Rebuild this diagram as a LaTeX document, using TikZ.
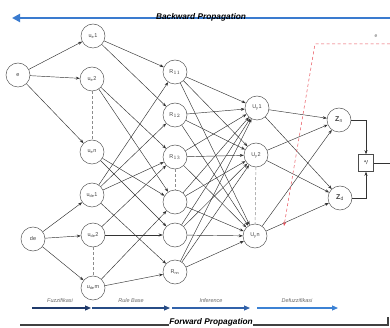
\documentclass[tikz,border=0pt]{standalone}
\usepackage{fontspec}
\setmainfont{Liberation Sans}
\usetikzlibrary{arrows.meta}
\definecolor{bpblue}{HTML}{3A7BCF}
\definecolor{fpgray}{HTML}{404040}
\definecolor{ph1}{HTML}{1F3A6B}
\definecolor{ph2}{HTML}{274C86}
\definecolor{ph3}{HTML}{3162AA}
\definecolor{ph4}{HTML}{3C82D4}
\definecolor{reddash}{HTML}{E8505A}
\begin{document}
\begin{tikzpicture}[x=1pt,y=-1pt,
  nd/.style={circle,draw=black!65,line width=0.5pt,minimum size=24pt,inner sep=0pt,font=\fontsize{5.5}{6}\selectfont,text=black!75},
  zn/.style={nd,font=\fontsize{7}{8}\selectfont\bfseries},
  ln/.style={draw=black!80,line width=0.45pt},
  ar/.style={ln,-{Stealth[length=4pt,width=3pt]}},
  dsh/.style={draw=black!45,line width=0.5pt,dash pattern=on 3pt off 2pt},
  phase/.style={line width=1.1pt,-{Triangle[length=6pt,width=5pt]}},
  phl/.style={font=\fontsize{5.5}{6}\selectfont\itshape,text=black!60},
  prop/.style={font=\fontsize{8.3}{9}\selectfont\bfseries\itshape,inner sep=1pt}]
\useasboundingbox (0,0) rectangle (390,328);
% propagation lines
\coordinate (bpR) at (390,18);
\coordinate (bpL) at (12,18);
\draw[bpblue,line width=2.2pt,-{Triangle[length=8pt,width=8pt]}] (bpR) -- (bpL);
\node[prop] (bpt) at (201,17.5) {Backward Propagation};
\coordinate (fpL) at (20,325);
\coordinate (fpR) at (388,325);
\coordinate (fpT) at (388,317);
\draw[fpgray,line width=2.2pt] (fpL) -- (fpR) -- (fpT);
\node[prop,fill=white,inner sep=0.5pt] (fpt) at (211,322.8) {Forward Propagation};
% nodes
\node[nd] (e) at (18,75) {e};
\node[nd] (de) at (33,239) {de};
\node[nd] (ue1) at (93,36) {u$_{\mathrm{e}}$1};
\node[nd] (ue2) at (92,79) {u$_{\mathrm{e}}$2};
\node[nd] (uen) at (92,152) {u$_{\mathrm{e}}$n};
\node[nd] (ud1) at (92,195) {u$_{\mathrm{de}}$1};
\node[nd] (ud2) at (93,235) {u$_{\mathrm{de}}$2};
\node[nd] (udm) at (93,288) {u$_{\mathrm{de}}$m};
\node[nd] (r1) at (175,72) {R$_{11}$};
\node[nd] (r2) at (175,115) {R$_{12}$};
\node[nd] (r3) at (175,157) {R$_{13}$};
\node[nd] (r4) at (175,202) {};
\node[nd] (r5) at (175,235) {};
\node[nd] (r6) at (175,272) {R$_{\mathrm{nn}}$};
\node[nd] (y1) at (257,108) {U$_{\mathrm{y}}$1};
\node[nd] (y2) at (256,155) {U$_{\mathrm{y}}$2};
\node[nd] (yn) at (255,236) {U$_{\mathrm{y}}$n};
\node[zn] (zn) at (339,120) {Z$_{\mathrm{n}}$};
\node[zn] (zd) at (340,198) {Z$_{\mathrm{d}}$};
\node[draw=black!70,line width=0.5pt,minimum width=15pt,minimum height=17pt,inner sep=0pt,font=\fontsize{5.5}{6}\selectfont] (box) at (366,163) {*/};
\coordinate (out) at (390,163);
% dashed continuation
\draw[dsh] (ue2) -- (uen);
\draw[dsh] (ud2) -- (udm);
\draw[dsh] (r3) -- (r4);
\draw[dsh] (y2) -- (yn);
% input edges
\foreach \t in {ue1,ue2,uen} \draw[ar] (e) -- (\t);
\foreach \t in {ud1,ud2,udm} \draw[ar] (de) -- (\t);
% fuzzification to rules
\foreach \s/\t in {ue1/r1,ue1/r2,ue2/r3,ue2/r4,uen/r4,uen/r5,ud1/r1,ud1/r2,ud1/r3,ud1/r6,ud2/r3,ud2/r5,udm/r4,udm/r6}
  \draw[ar] (\s) -- (\t);
% rules to inference
\foreach \s in {r1,r2,r3,r4,r5,r6}
  \foreach \t in {y1,y2,yn}
    \draw[ar] (\s) -- (\t);
% inference to defuzz
\foreach \s in {y1,y2,yn}
  \foreach \t in {zn,zd}
    \draw[ar] (\s) -- (\t);
\draw[ar] (zn.east) -| (box.north);
\draw[ar] (zd.east) -| (box.south);
\draw[ln] (box.east) -- (out);
% error feedback
\node[font=\fontsize{5}{6}\selectfont,text=black!60] (elab) at (376,36) {e};
\coordinate (eR) at (390,44);
\coordinate (eC) at (315,44);
\coordinate (eT) at (284,226);
\draw[reddash,line width=0.5pt,dash pattern=on 3pt off 2.5pt,-{Stealth[length=4pt,width=3pt]}] (eR) -- (eC) -- (eT);
% phase arrows
\coordinate (p0) at (32,308);
\coordinate (p1) at (91,308);
\coordinate (p1b) at (92,308);
\coordinate (p2) at (170,308);
\coordinate (p2b) at (172,308);
\coordinate (p3) at (250,308);
\coordinate (p3b) at (257,308);
\coordinate (p4) at (338,308);
\draw[phase,ph1] (p0) -- (p1);
\draw[phase,ph2] (p1b) -- (p2);
\draw[phase,ph3] (p2b) -- (p3);
\draw[phase,ph4] (p3b) -- (p4);
\node[phl] (l1) at (60,301) {Fuzzifikasi};
\node[phl] (l2) at (131,301) {Rule Base};
\node[phl] (l3) at (211,301) {Inference};
\node[phl] (l4) at (297,301) {Defuzzifikasi};
\end{tikzpicture}
\end{document}
